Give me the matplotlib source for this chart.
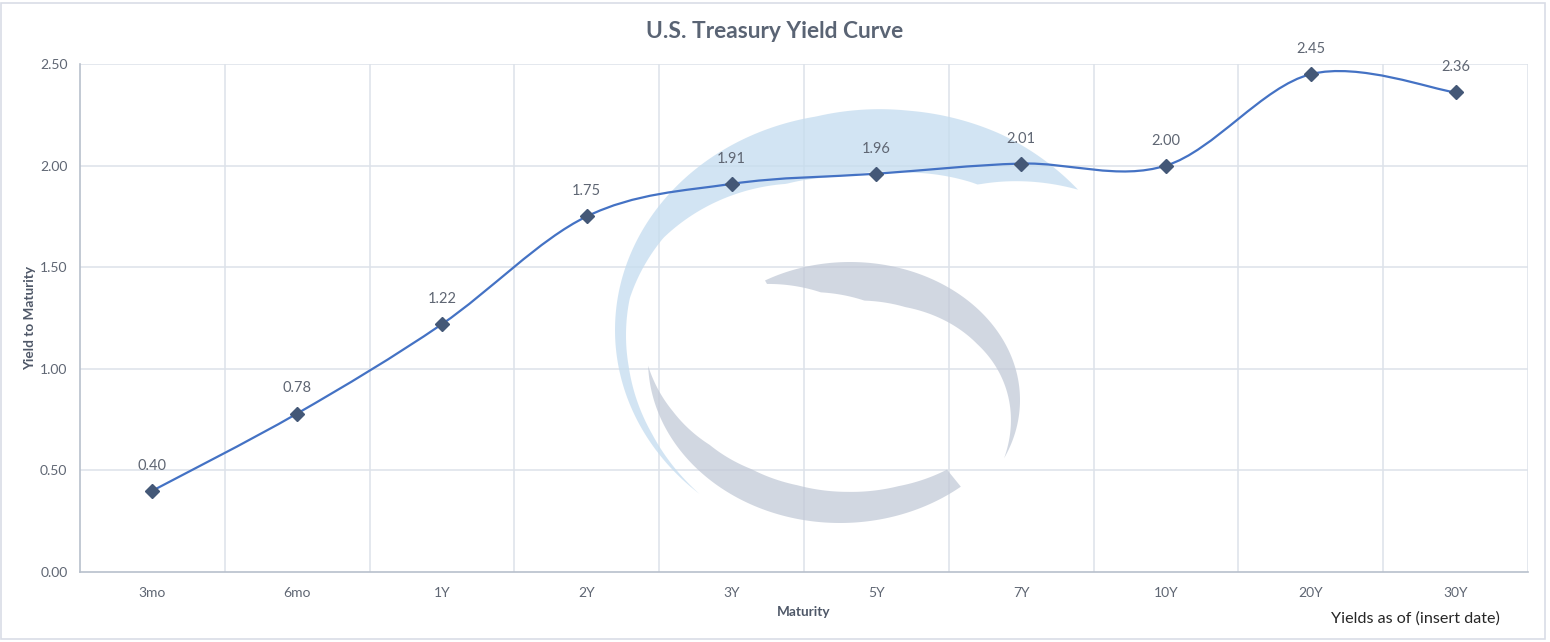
import numpy as np
import matplotlib
matplotlib.use("Agg")
import matplotlib.pyplot as plt
from matplotlib.path import Path
from matplotlib.patches import PathPatch, Polygon, Rectangle

maturities = ["3mo", "6mo", "1Y", "2Y", "3Y", "5Y", "7Y", "10Y", "20Y", "30Y"]
yields = [0.40, 0.78, 1.22, 1.75, 1.91, 1.96, 2.01, 2.00, 2.45, 2.36]
yticks = [0.0, 0.5, 1.0, 1.5, 2.0, 2.5]

W, H = 1550, 642
plt.rcParams["font.family"] = ["Lato", "DejaVu Sans"]
fig = plt.figure(figsize=(W / 100, H / 100), dpi=100)
ax = fig.add_axes([80 / W, 1 - 572 / H, (1528 - 80) / W, (572 - 64) / H])

x = np.arange(len(maturities), dtype=float)
y = np.array(yields)

# grid / frame
grid_c = "#dde2ea"
ax.set_xlim(-0.5, len(maturities) - 0.5)
ax.set_ylim(0, 2.5)
ax.set_yticks(yticks)
ax.set_yticklabels([f"{v:.2f}" for v in yticks])
ax.set_xticks(x)
ax.set_xticklabels(maturities)
for v in yticks[1:]:
    ax.axhline(v, color=grid_c, lw=1.1, zorder=0.5)
for b in np.arange(0.5, len(maturities), 1.0):
    ax.axvline(b, color=grid_c, lw=1.1, zorder=0.5)
for s in ["top", "right"]:
    ax.spines[s].set_visible(False)
for s in ["left", "bottom"]:
    ax.spines[s].set_color("#b8c0cc")
    ax.spines[s].set_linewidth(1.2)
ax.tick_params(length=0, labelsize=10, colors="#5f6673")
ax.tick_params(axis="y", pad=9)
ax.tick_params(axis="x", pad=11)


# watermark crescents (figure pixel coords, y down)
def crescent(cx, cy, rx, ry, a0, a1, widths, color, alpha, mult=(1.0,)):
    th = np.radians(np.linspace(a0, a1, 240))
    t = np.linspace(0, 1, 240)
    w = np.interp(t, np.linspace(0, 1, len(widths)), widths)
    m = np.interp(t, np.linspace(0, 1, len(mult)), mult)
    ox, oy = cx + m * rx * np.cos(th), cy - m * ry * np.sin(th)
    ix, iy = cx + (m * rx - w) * np.cos(th), cy - (m * ry - w) * np.sin(th)
    px = np.concatenate([ox, ix[::-1]]) / W
    py = 1 - np.concatenate([oy, iy[::-1]]) / H
    ax.add_patch(Polygon(np.column_stack([px, py]), closed=True, transform=fig.transFigure,
                         facecolor=color, edgecolor="none", alpha=alpha, zorder=1, clip_on=False))


crescent(860, 330, 245, 217, 229, 36, [0, 6, 10, 12, 22, 40, 58, 64, 62, 56, 0], "#c4dcef", 0.75,
         mult=[1, 1, 1, 1, 1, 1, 1.0, 1.03, 1.07, 1.10])
crescent(850, 400, 170, 138, 120, -25, [4, 28, 38, 36, 30, 24, 16, 8, 0], "#c0c8d6", 0.72)
crescent(840, 360, 192, 163, 182, 309, [0, 14, 26, 32, 33, 31, 28, 22], "#c0c8d6", 0.72)

# smoothed line (Excel-style bezier through the points)
pts = np.column_stack([x, y])
verts = [pts[0]]
codes = [Path.MOVETO]
n = len(pts)
for i in range(n - 1):
    p_prev = pts[i - 1] if i > 0 else pts[i]
    p_next2 = pts[i + 2] if i + 2 < n else pts[i + 1]
    c1 = pts[i] + (pts[i + 1] - p_prev) / 6
    c2 = pts[i + 1] - (p_next2 - pts[i]) / 6
    verts += [c1, c2, pts[i + 1]]
    codes += [Path.CURVE4] * 3
ax.add_patch(PathPatch(Path(verts, codes), facecolor="none", edgecolor="#4472c4", lw=1.6, zorder=3))
ax.plot(x, y, ls="none", marker="D", ms=7.5, color="#445877", zorder=4)

for xi, yi in zip(x, y):
    ax.annotate(f"{yi:.2f}", (xi, yi), xytext=(0, 13), textcoords="offset points",
                ha="center", va="bottom", fontsize=10.5, color="#5f6673", zorder=5)

fig.text(0.5, 1 - 32 / H, "U.S. Treasury Yield Curve", ha="center", va="center",
         fontsize=16.4, fontweight="bold", color="#5a6474")
ax.set_ylabel("Yield to Maturity", fontsize=9.8, fontweight="bold", color="#4f5868", labelpad=3)
ax.set_xlabel("Maturity", fontsize=9.8, fontweight="bold", color="#4f5868", labelpad=5)
fig.text(1500 / W, 1 - 619 / H, "Yields as of (insert date)", ha="right", va="center",
         fontsize=11.6, color="#262626")

fig.patches.append(Rectangle((1 / W, 1 - 639 / H), 1544 / W, 636 / H, transform=fig.transFigure,
                             facecolor="none", edgecolor="#d9dde6", lw=1.2))

fig.savefig("out.png", dpi=100)
